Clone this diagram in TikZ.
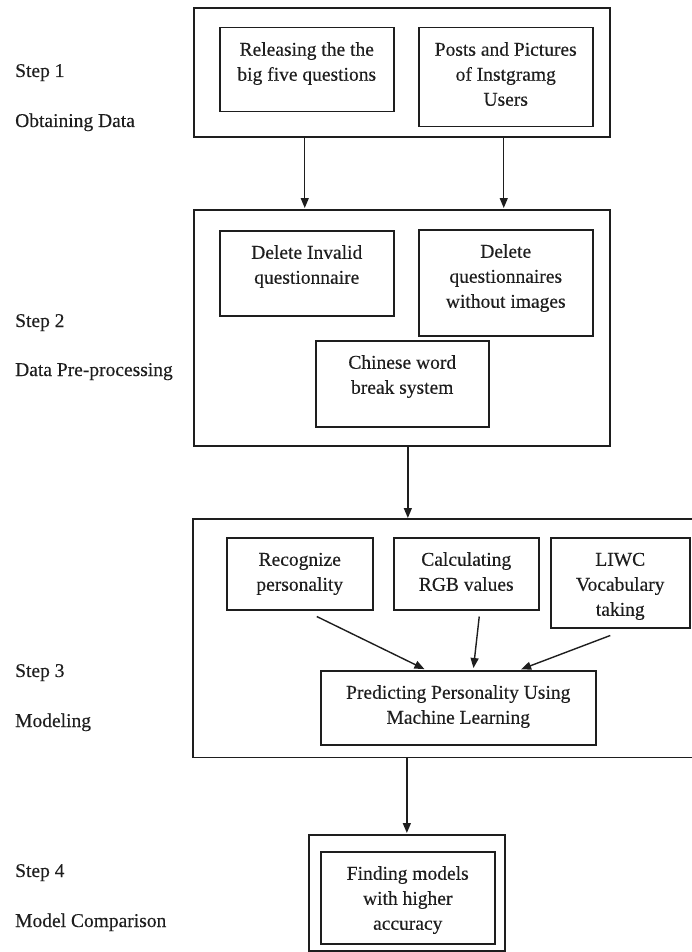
\documentclass[tikz,border=0pt]{standalone}
\usepackage{fontspec}
\setmainfont[FakeBold=0.35]{Liberation Serif}
\usetikzlibrary{arrows.meta,calc}
\definecolor{ink}{HTML}{1e1e1e}
\newcommand{\bt}[3]{\parbox[c][#2][t]{#1}{\centering\rule{0pt}{28pt}#3\par}}
\tikzset{
  txt/.style={font=\fontsize{19.5}{25}\selectfont, text=ink},
  outerbox/.style={draw=ink, line width=1.7pt, inner sep=0pt, anchor=north west},
  inbox/.style={draw=ink, line width=1.5pt, inner sep=0pt, anchor=north west, txt},
  lbl/.style={txt, anchor=base west, inner sep=0pt},
  arr/.style={draw=ink, line width=1.4pt, -{Triangle[length=10pt,width=8pt]}, shorten >=1pt}
}
\begin{document}
\begin{tikzpicture}[x=1pt,y=-1pt]
\useasboundingbox (0,0) rectangle (691,952);
% step labels
\node[lbl] (l1a) at (15,77) {Step 1};
\node[lbl] (l1b) at (15,127) {Obtaining Data};
\node[lbl] (l2a) at (15,327) {Step 2};
\node[lbl] (l2b) at (15,376) {Data Pre-processing};
\node[lbl] (l3a) at (15,677) {Step 3};
\node[lbl] (l3b) at (15,727) {Modeling};
\node[lbl] (l4a) at (15,877) {Step 4};
\node[lbl] (l4b) at (15,927) {Model Comparison};
% step 1
\node[outerbox, minimum width=416pt, minimum height=129pt] (s1) at (193,7) {};
\node[inbox] (A) at (219,27) {\bt{174pt}{84pt}{Releasing the the\\big five questions}};
\node[inbox] (B) at (418,27) {\bt{174pt}{99pt}{Posts and Pictures\\of Instgramg\\Users}};
% step 2
\node[outerbox, minimum width=416pt, minimum height=236pt] (s2) at (193,209) {};
\node[inbox] (C) at (219,230) {\bt{174pt}{85pt}{Delete Invalid\\questionnaire}};
\node[inbox] (D) at (418,229) {\bt{174pt}{106pt}{Delete\\questionnaires\\without images}};
\node[inbox] (E) at (315,340) {\bt{173pt}{86pt}{Chinese word\\break system}};
% step 3 (open to the right edge)
\node[inner sep=0pt, anchor=north west, minimum width=500pt, minimum height=238pt] (s3) at (193,519) {};
\draw[draw=ink, line width=1.7pt] (s3.north east) -- (s3.north west) -- (s3.south west) -- (s3.south east);
\node[inbox] (F) at (226,537) {\bt{146pt}{72pt}{Recognize\\personality}};
\node[inbox] (G) at (393,537) {\bt{145pt}{72pt}{Calculating\\RGB values}};
\node[inbox] (H) at (550,537) {\bt{139pt}{90pt}{LIWC\\Vocabulary\\taking}};
\node[inbox] (I) at (320,670) {\bt{275pt}{74pt}{Predicting Personality Using\\Machine Learning}};
% step 4
\node[outerbox, minimum width=196pt, minimum height=116pt] (s4) at (308,834) {};
\node[inbox] (J) at (320,851) {\bt{174pt}{92pt}{Finding models\\with higher\\accuracy}};
% connectors
\draw[arr] ([xshift=-2pt]A.south |- s1.south) -- ([xshift=-2pt]A.south |- s2.north);
\draw[arr] ([xshift=-2pt]B.south |- s1.south) -- ([xshift=-2pt]B.south |- s2.north);
\draw[arr] ([xshift=6pt]s2.south) -- ([xshift=6pt]s2.south |- s3.north);
\draw[arr] (s4.north |- s3.south) -- (s4.north);
\draw[arr, shorten >=2pt] ([xshift=17pt,yshift=-6pt]F.south) -- ([xshift=-32pt]I.north);
\draw[arr, shorten >=2pt] ([xshift=13pt,yshift=-6pt]G.south) -- ([xshift=15pt]I.north);
\draw[arr, shorten >=2pt] ([xshift=-10pt,yshift=-7pt]H.south) -- ([xshift=61pt]I.north);
\end{tikzpicture}
\end{document}
